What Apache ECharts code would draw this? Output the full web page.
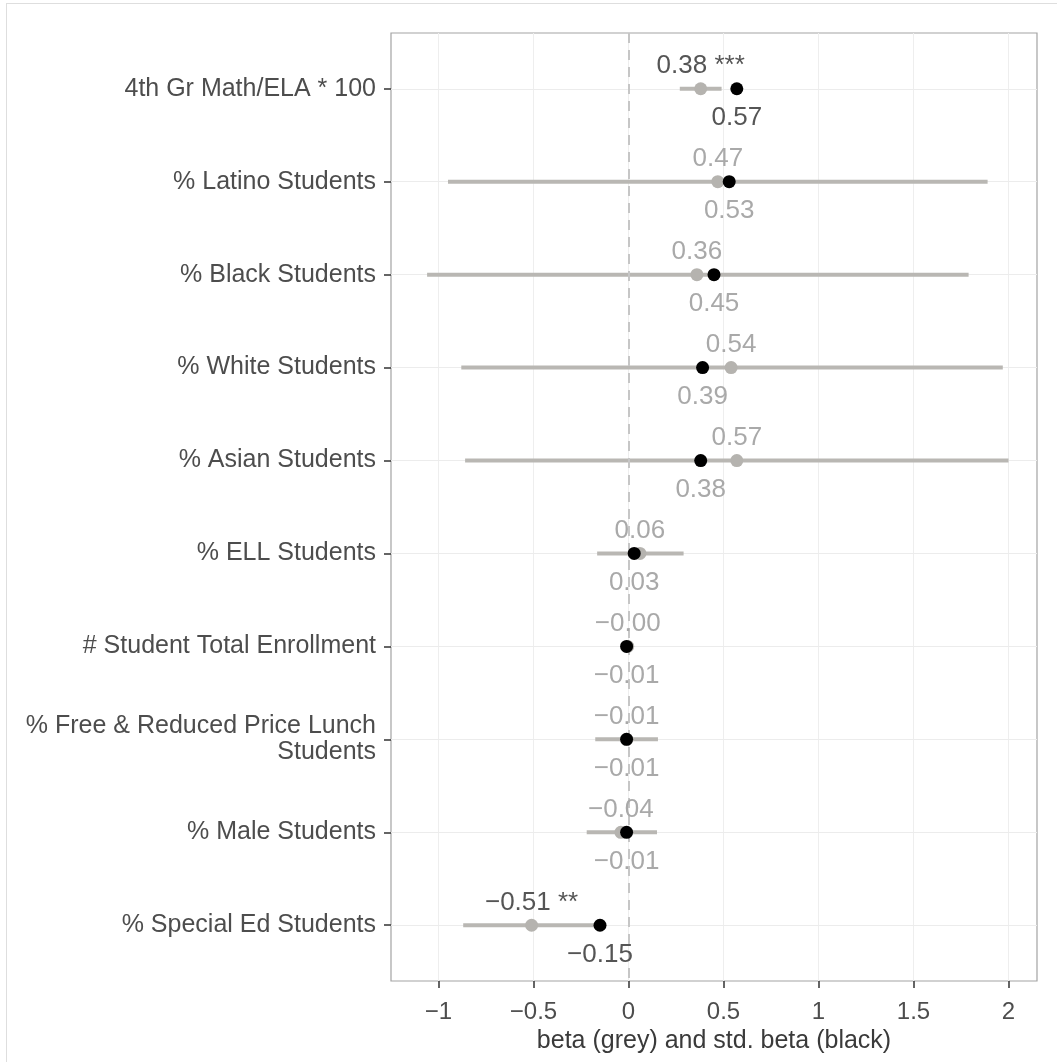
<!DOCTYPE html>
<html>
<head>
<meta charset="utf-8">
<script src="https://cdn.jsdelivr.net/npm/echarts@6/dist/echarts.min.js"></script>
<style>
  html, body { margin: 0; padding: 0; background: #ffffff; }
  #chart { width: 1057px; height: 1062px; }
  #frame { position: absolute; left: 6px; top: 3px; width: 1100px; height: 1100px;
           border-top: 1px solid #dedede; border-left: 1px solid #dedede; pointer-events: none; }
</style>
</head>
<body>
<div id="chart"></div>
<div id="frame"></div>
<script>
// ---- data ----
const categories = [
  '4th Gr Math/ELA * 100',
  '% Latino Students',
  '% Black Students',
  '% White Students',
  '% Asian Students',
  '% ELL Students',
  '# Student Total Enrollment',
  '% Free & Reduced Price Lunch\nStudents',
  '% Male Students',
  '% Special Ed Students'
];
const beta    = [0.38, 0.47, 0.36, 0.54, 0.57, 0.06, -0.004, -0.01, -0.04, -0.51];
const stdBeta = [0.57, 0.53, 0.45, 0.39, 0.38, 0.03, -0.01, -0.01, -0.01, -0.15];
const ciLow   = [0.27, -0.95, -1.06, -0.88, -0.86, -0.165, -0.006, -0.175, -0.22, -0.87];
const ciHigh  = [0.49, 1.89, 1.79, 1.97, 2.00, 0.29, 0.005, 0.155, 0.15, -0.15];
const stars   = ['***', '', '', '', '', '', '', '', '', '**'];
const xTicks  = [-1, -0.5, 0, 0.5, 1, 1.5, 2];
const rowIdx  = categories.map((c, i) => i);

const FONT = "'Liberation Sans', Arial, Helvetica, sans-serif";
const fmtNum = v => v.toFixed(2).replace('-', '\u2212');
const fmtTick = v => String(v).replace('-', '\u2212');
const labColor = i => stars[i] ? '#555555' : '#a9a9a9';

const chart = echarts.init(document.getElementById('chart'), null, { renderer: 'canvas' });

const option = {
  backgroundColor: '#ffffff',
  animation: false,
  grid: {
    left: 391, right: 20, top: 33, bottom: 81,
    show: true, borderColor: '#a3a3a3', borderWidth: 1.2, backgroundColor: '#ffffff'
  },
  xAxis: {
    type: 'value', min: -1.25, max: 2.15, interval: 0.25,
    axisLine: { show: false, onZero: false },
    axisTick: { show: true, customValues: xTicks, length: 7, lineStyle: { color: '#333333', width: 1.5 } },
    axisLabel: {
      customValues: xTicks, margin: 19, fontFamily: FONT, fontSize: 24, color: '#4d4d4d',
      formatter: v => (Math.abs(v * 2 - Math.round(v * 2)) < 1e-6 && v >= -1 && v <= 2) ? fmtTick(v) : ''
    },
    splitLine: { show: true, lineStyle: { color: '#eeeeee', width: 1 } },
    name: 'beta (grey) and std. beta (black)',
    nameLocation: 'middle', nameGap: 42,
    nameTextStyle: { fontFamily: FONT, fontSize: 25, color: '#3a3a3a' }
  },
  yAxis: {
    type: 'value', inverse: true, min: -0.6, max: 9.6,
    axisLine: { show: false, onZero: false },
    axisTick: { show: true, customValues: rowIdx, length: 7, lineStyle: { color: '#333333', width: 1.5 } },
    axisLabel: {
      customValues: rowIdx, margin: 15, fontFamily: FONT, fontSize: 25, color: '#4d4d4d',
      lineHeight: 26, align: 'right',
      formatter: v => {
        const r = Math.round(v);
        return (Math.abs(v - r) < 1e-6 && r >= 0 && r < categories.length) ? categories[r] : '';
      }
    },
    splitLine: { show: false }
  },
  series: [
    {
      type: 'custom',
      name: 'ci',
      z: 2,
      renderItem: function (params, api) {
        const a = api.coord([api.value(0), api.value(2)]);
        const b = api.coord([api.value(1), api.value(2)]);
        return {
          type: 'line',
          shape: { x1: a[0], y1: a[1], x2: b[0], y2: b[1] },
          style: { stroke: '#b9b7b3', lineWidth: 4 }
        };
      },
      encode: { x: [0, 1], y: 2 },
      data: ciLow.map((l, i) => [l, ciHigh[i], i]),
      markLine: {
        silent: true, symbol: 'none', z: 1,
        label: { show: false },
        lineStyle: { color: '#ececec', width: 1, type: 'solid' },
        data: rowIdx.map(i => ({ yAxis: i }))
      }
    },
    {
      type: 'scatter',
      name: 'zero',
      z: 3,
      data: [],
      markLine: {
        silent: true, symbol: 'none', z: 3,
        label: { show: false },
        lineStyle: { color: '#c6c6c6', width: 2, type: [10, 7] },
        data: [{ xAxis: 0 }]
      }
    },
    {
      type: 'scatter',
      name: 'beta',
      z: 4,
      symbolSize: 13,
      itemStyle: { color: '#b5b3af', opacity: 1 },
      data: beta.map((v, i) => ({
        value: [v, i],
        label: {
          show: true, position: 'top', distance: 3,
          formatter: fmtNum(v) + (stars[i] ? ' ' + stars[i] : ''),
          fontFamily: FONT, fontSize: 26, color: labColor(i)
        }
      }))
    },
    {
      type: 'scatter',
      name: 'stdbeta',
      z: 5,
      symbolSize: 13,
      itemStyle: { color: '#000000', opacity: 1 },
      data: stdBeta.map((v, i) => ({
        value: [v, i],
        label: {
          show: true, position: 'bottom', distance: 10,
          formatter: fmtNum(v),
          fontFamily: FONT, fontSize: 26, color: labColor(i)
        }
      }))
    }
  ]
};
chart.setOption(option);
</script>
</body>
</html>
